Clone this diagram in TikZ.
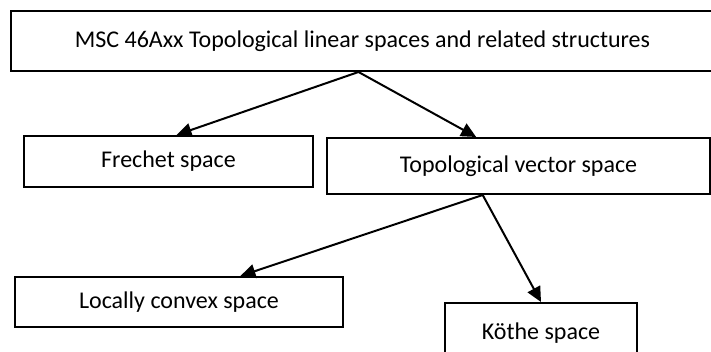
\documentclass[tikz,border=0pt]{standalone}
\usepackage{fontspec}
\setmainfont{Carlito}
\usetikzlibrary{arrows.meta,calc,positioning}

\begin{document}
\begin{tikzpicture}[x=1pt, y=-1pt, every node/.style={draw, rectangle, line width=2pt, inner sep=0pt, font=\fontsize{24}{29}\selectfont}]
		\useasboundingbox (0,0) rectangle (711,352);
		
		\node[minimum width=703pt, minimum height=60pt] (msc) at (362.5,41) {MSC 46Axx Topological linear spaces and related structures};
		
		\node[minimum width=289pt, minimum height=51pt] (frechet) at (168.5,161.5) {Frechet space};
		
		\node[minimum width=383pt, minimum height=56pt] (tvs) at (518.5,166) {Topological vector space};
		
		\node[minimum width=328pt, minimum height=50pt] (lcs) at (179,302) {Locally convex space};
		
		\node[minimum width=192pt, minimum height=60pt] (kothe) at (541,333) {Köthe space};
		
		\draw[-{Triangle[length=15pt,width=14pt]}, line width=2pt] ($(msc.south)+(-4,0)$) -- ($(frechet.north)+(8,0)$);
		
		\draw[-{Triangle[length=15pt,width=14pt]}, line width=2pt] ($(msc.south)+(-4,0)$) -- ($(tvs.north west)!0.39!(tvs.north east)$);
		
		\draw[-{Triangle[length=15pt,width=14pt]}, line width=2pt] ($(tvs.south west)!0.407!(tvs.south east)$) -- ($(lcs.north west)!0.686!(lcs.north east)$);
		
		\draw[-{Triangle[length=15pt,width=14pt]}, line width=2pt] ($(tvs.south west)!0.407!(tvs.south east)$) -- (kothe.north);
		\end{tikzpicture}
\end{document}
